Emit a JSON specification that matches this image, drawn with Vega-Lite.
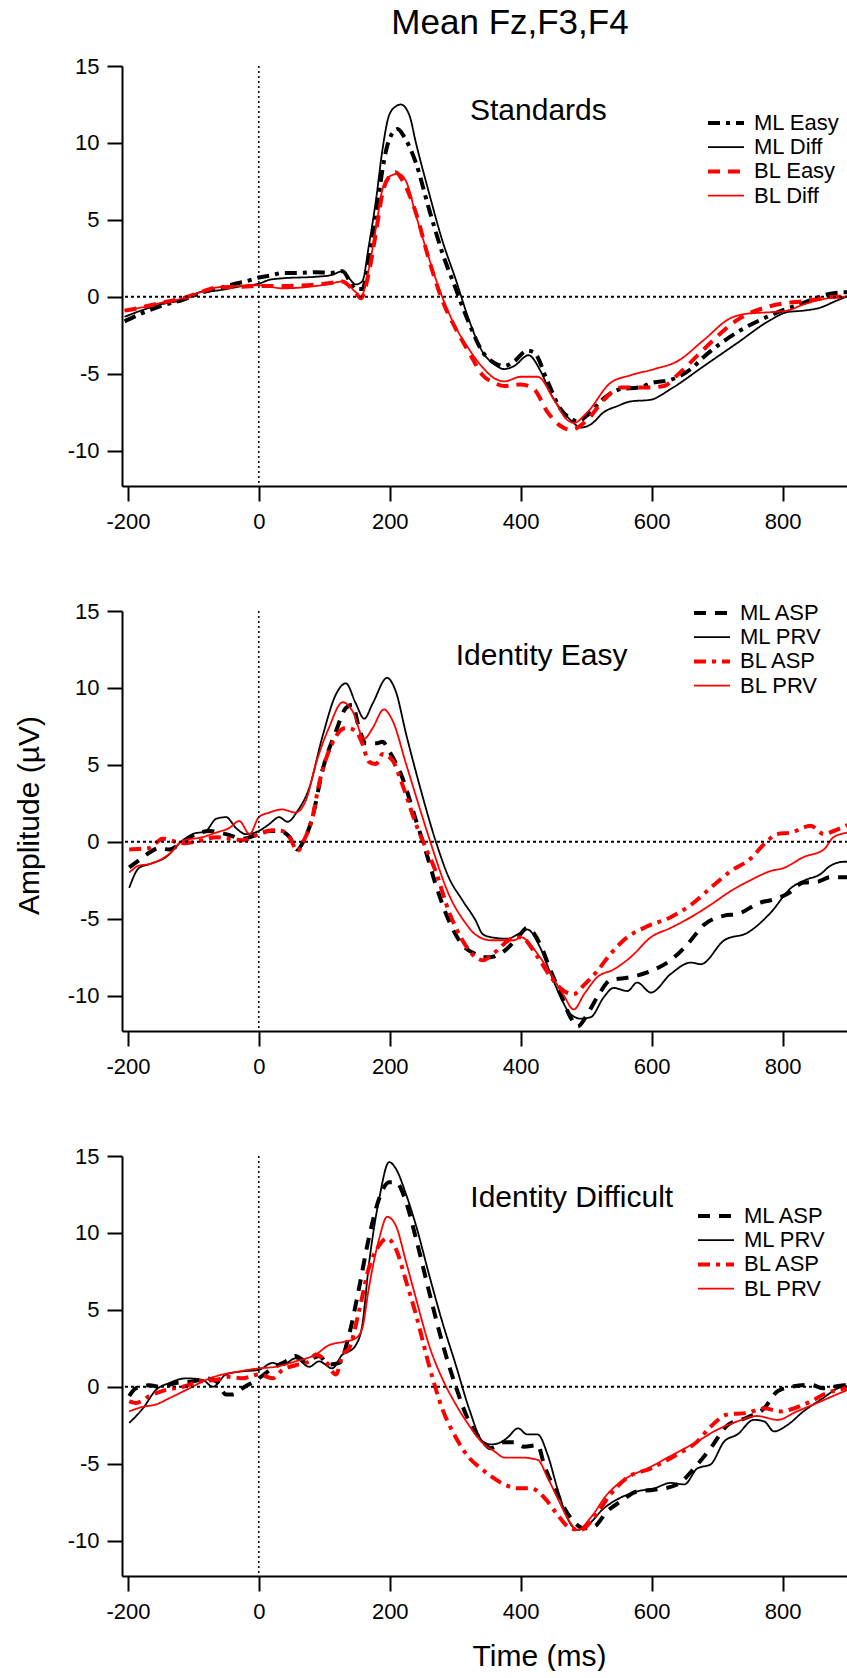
{
"$schema": "https://vega.github.io/schema/vega-lite/v6.json",
"padding": {"left": 14, "top": 6, "right": 0, "bottom": 0},
"title": {"text": "Mean Fz,F3,F4", "fontSize": 35, "font": "Liberation Sans", "fontWeight": "normal", "color": "black", "offset": 14, "dx": 75, "anchor": "middle"},
"spacing": 125,
"bounds": "flush",
"datasets": {
"s1": [
{"s":"ML Easy","t":-205,"v":-1.6},{"s":"ML Easy","t":-180,"v":-1.1},{"s":"ML Easy","t":-150,"v":-0.6},{"s":"ML Easy","t":-116,"v":-0.2},{"s":"ML Easy","t":-85,"v":0.3},{"s":"ML Easy","t":-65,"v":0.5},{"s":"ML Easy","t":-40,"v":0.8},{"s":"ML Easy","t":-20,"v":1.0},{"s":"ML Easy","t":0,"v":1.25},{"s":"ML Easy","t":20,"v":1.4},{"s":"ML Easy","t":36,"v":1.55},{"s":"ML Easy","t":60,"v":1.55},{"s":"ML Easy","t":87,"v":1.6},{"s":"ML Easy","t":110,"v":1.55},{"s":"ML Easy","t":128,"v":1.66},{"s":"ML Easy","t":138,"v":1.1},{"s":"ML Easy","t":148,"v":0.5},{"s":"ML Easy","t":158,"v":0.5},{"s":"ML Easy","t":168,"v":2.4},{"s":"ML Easy","t":179,"v":5.2},{"s":"ML Easy","t":189,"v":8.3},{"s":"ML Easy","t":199,"v":10.2},{"s":"ML Easy","t":212,"v":10.9},{"s":"ML Easy","t":222,"v":10.4},{"s":"ML Easy","t":240,"v":8.7},{"s":"ML Easy","t":260,"v":5.7},{"s":"ML Easy","t":280,"v":2.9},{"s":"ML Easy","t":301,"v":0.5},{"s":"ML Easy","t":321,"v":-1.7},{"s":"ML Easy","t":342,"v":-3.6},{"s":"ML Easy","t":360,"v":-4.3},{"s":"ML Easy","t":375,"v":-4.5},{"s":"ML Easy","t":390,"v":-4.2},{"s":"ML Easy","t":410,"v":-3.5},{"s":"ML Easy","t":420,"v":-3.6},{"s":"ML Easy","t":441,"v":-5.5},{"s":"ML Easy","t":461,"v":-7.3},{"s":"ML Easy","t":476,"v":-7.9},{"s":"ML Easy","t":487,"v":-8.1},{"s":"ML Easy","t":502,"v":-7.7},{"s":"ML Easy","t":527,"v":-6.6},{"s":"ML Easy","t":553,"v":-6.0},{"s":"ML Easy","t":580,"v":-5.9},{"s":"ML Easy","t":600,"v":-5.6},{"s":"ML Easy","t":629,"v":-5.4},{"s":"ML Easy","t":660,"v":-4.7},{"s":"ML Easy","t":680,"v":-3.9},{"s":"ML Easy","t":731,"v":-2.3},{"s":"ML Easy","t":782,"v":-1.2},{"s":"ML Easy","t":832,"v":-0.4},{"s":"ML Easy","t":873,"v":0.2},{"s":"ML Easy","t":900,"v":0.3},
{"s":"ML Diff","t":-205,"v":-1.3},{"s":"ML Diff","t":-180,"v":-0.9},{"s":"ML Diff","t":-150,"v":-0.5},{"s":"ML Diff","t":-116,"v":-0.2},{"s":"ML Diff","t":-85,"v":0.35},{"s":"ML Diff","t":-65,"v":0.4},{"s":"ML Diff","t":-25,"v":0.7},{"s":"ML Diff","t":0,"v":0.85},{"s":"ML Diff","t":16,"v":1.1},{"s":"ML Diff","t":36,"v":1.2},{"s":"ML Diff","t":87,"v":1.3},{"s":"ML Diff","t":110,"v":1.4},{"s":"ML Diff","t":128,"v":1.66},{"s":"ML Diff","t":138,"v":1.2},{"s":"ML Diff","t":148,"v":0.8},{"s":"ML Diff","t":158,"v":1.0},{"s":"ML Diff","t":168,"v":3.3},{"s":"ML Diff","t":179,"v":6.3},{"s":"ML Diff","t":189,"v":9.6},{"s":"ML Diff","t":199,"v":11.8},{"s":"ML Diff","t":210,"v":12.4},{"s":"ML Diff","t":217,"v":12.5},{"s":"ML Diff","t":230,"v":11.8},{"s":"ML Diff","t":240,"v":10.0},{"s":"ML Diff","t":260,"v":6.75},{"s":"ML Diff","t":280,"v":3.7},{"s":"ML Diff","t":301,"v":1.1},{"s":"ML Diff","t":321,"v":-1.5},{"s":"ML Diff","t":342,"v":-3.6},{"s":"ML Diff","t":360,"v":-4.4},{"s":"ML Diff","t":375,"v":-4.7},{"s":"ML Diff","t":390,"v":-4.5},{"s":"ML Diff","t":412,"v":-3.8},{"s":"ML Diff","t":430,"v":-4.8},{"s":"ML Diff","t":446,"v":-6.3},{"s":"ML Diff","t":461,"v":-7.3},{"s":"ML Diff","t":476,"v":-8.0},{"s":"ML Diff","t":492,"v":-8.5},{"s":"ML Diff","t":507,"v":-8.3},{"s":"ML Diff","t":527,"v":-7.5},{"s":"ML Diff","t":548,"v":-7.1},{"s":"ML Diff","t":568,"v":-6.8},{"s":"ML Diff","t":598,"v":-6.7},{"s":"ML Diff","t":629,"v":-6.0},{"s":"ML Diff","t":680,"v":-4.5},{"s":"ML Diff","t":731,"v":-3.0},{"s":"ML Diff","t":782,"v":-1.5},{"s":"ML Diff","t":807,"v":-1.0},{"s":"ML Diff","t":832,"v":-0.9},{"s":"ML Diff","t":858,"v":-0.7},{"s":"ML Diff","t":880,"v":-0.3},{"s":"ML Diff","t":900,"v":0.05},
{"s":"BL Easy","t":-205,"v":-0.9},{"s":"BL Easy","t":-180,"v":-0.7},{"s":"BL Easy","t":-150,"v":-0.4},{"s":"BL Easy","t":-116,"v":-0.1},{"s":"BL Easy","t":-85,"v":0.35},{"s":"BL Easy","t":-65,"v":0.6},{"s":"BL Easy","t":-30,"v":0.65},{"s":"BL Easy","t":0,"v":0.7},{"s":"BL Easy","t":36,"v":0.7},{"s":"BL Easy","t":87,"v":0.8},{"s":"BL Easy","t":110,"v":0.9},{"s":"BL Easy","t":128,"v":1.0},{"s":"BL Easy","t":138,"v":0.7},{"s":"BL Easy","t":148,"v":0.26},{"s":"BL Easy","t":156,"v":-0.1},{"s":"BL Easy","t":168,"v":1.56},{"s":"BL Easy","t":179,"v":4.2},{"s":"BL Easy","t":189,"v":6.75},{"s":"BL Easy","t":199,"v":7.8},{"s":"BL Easy","t":209,"v":8.1},{"s":"BL Easy","t":219,"v":7.6},{"s":"BL Easy","t":240,"v":5.45},{"s":"BL Easy","t":260,"v":2.4},{"s":"BL Easy","t":280,"v":-0.2},{"s":"BL Easy","t":301,"v":-2.1},{"s":"BL Easy","t":321,"v":-3.6},{"s":"BL Easy","t":342,"v":-5.1},{"s":"BL Easy","t":360,"v":-5.6},{"s":"BL Easy","t":375,"v":-5.8},{"s":"BL Easy","t":400,"v":-5.7},{"s":"BL Easy","t":420,"v":-6.0},{"s":"BL Easy","t":441,"v":-7.5},{"s":"BL Easy","t":461,"v":-8.4},{"s":"BL Easy","t":476,"v":-8.65},{"s":"BL Easy","t":502,"v":-8.0},{"s":"BL Easy","t":527,"v":-6.7},{"s":"BL Easy","t":553,"v":-5.9},{"s":"BL Easy","t":594,"v":-5.9},{"s":"BL Easy","t":619,"v":-5.8},{"s":"BL Easy","t":639,"v":-5.1},{"s":"BL Easy","t":680,"v":-3.4},{"s":"BL Easy","t":731,"v":-1.5},{"s":"BL Easy","t":782,"v":-0.6},{"s":"BL Easy","t":807,"v":-0.4},{"s":"BL Easy","t":832,"v":-0.3},{"s":"BL Easy","t":883,"v":0.0},{"s":"BL Easy","t":900,"v":0.0},
{"s":"BL Diff","t":-205,"v":-0.9},{"s":"BL Diff","t":-180,"v":-0.7},{"s":"BL Diff","t":-150,"v":-0.4},{"s":"BL Diff","t":-116,"v":-0.1},{"s":"BL Diff","t":-85,"v":0.35},{"s":"BL Diff","t":-65,"v":0.6},{"s":"BL Diff","t":-30,"v":0.7},{"s":"BL Diff","t":0,"v":0.75},{"s":"BL Diff","t":36,"v":0.55},{"s":"BL Diff","t":87,"v":0.7},{"s":"BL Diff","t":110,"v":0.85},{"s":"BL Diff","t":128,"v":1.0},{"s":"BL Diff","t":148,"v":0.3},{"s":"BL Diff","t":156,"v":0.0},{"s":"BL Diff","t":168,"v":1.8},{"s":"BL Diff","t":179,"v":4.5},{"s":"BL Diff","t":189,"v":7.0},{"s":"BL Diff","t":199,"v":7.8},{"s":"BL Diff","t":213,"v":8.0},{"s":"BL Diff","t":225,"v":7.5},{"s":"BL Diff","t":240,"v":5.3},{"s":"BL Diff","t":260,"v":2.5},{"s":"BL Diff","t":280,"v":0.0},{"s":"BL Diff","t":301,"v":-2.0},{"s":"BL Diff","t":321,"v":-3.4},{"s":"BL Diff","t":342,"v":-4.6},{"s":"BL Diff","t":360,"v":-5.3},{"s":"BL Diff","t":375,"v":-5.5},{"s":"BL Diff","t":400,"v":-5.2},{"s":"BL Diff","t":426,"v":-5.2},{"s":"BL Diff","t":451,"v":-6.7},{"s":"BL Diff","t":471,"v":-8.0},{"s":"BL Diff","t":481,"v":-8.2},{"s":"BL Diff","t":502,"v":-7.5},{"s":"BL Diff","t":537,"v":-5.6},{"s":"BL Diff","t":568,"v":-5.1},{"s":"BL Diff","t":604,"v":-4.7},{"s":"BL Diff","t":639,"v":-4.2},{"s":"BL Diff","t":680,"v":-2.8},{"s":"BL Diff","t":720,"v":-1.4},{"s":"BL Diff","t":746,"v":-1.1},{"s":"BL Diff","t":782,"v":-1.0},{"s":"BL Diff","t":807,"v":-0.9},{"s":"BL Diff","t":832,"v":-0.5},{"s":"BL Diff","t":894,"v":0.0},{"s":"BL Diff","t":900,"v":0.0}
],
"s2": [
{"s":"ML ASP","t":-198,"v":-1.67},{"s":"ML ASP","t":-183,"v":-1.2},{"s":"ML ASP","t":-167,"v":-0.7},{"s":"ML ASP","t":-152,"v":-0.4},{"s":"ML ASP","t":-137,"v":-0.5},{"s":"ML ASP","t":-116,"v":0.0},{"s":"ML ASP","t":-96,"v":0.5},{"s":"ML ASP","t":-75,"v":0.7},{"s":"ML ASP","t":-50,"v":0.5},{"s":"ML ASP","t":-25,"v":0.2},{"s":"ML ASP","t":0,"v":0.5},{"s":"ML ASP","t":16,"v":0.7},{"s":"ML ASP","t":31,"v":0.7},{"s":"ML ASP","t":47,"v":0.3},{"s":"ML ASP","t":59,"v":-0.5},{"s":"ML ASP","t":69,"v":0.1},{"s":"ML ASP","t":82,"v":1.6},{"s":"ML ASP","t":97,"v":4.6},{"s":"ML ASP","t":118,"v":7.2},{"s":"ML ASP","t":133,"v":8.7},{"s":"ML ASP","t":143,"v":8.9},{"s":"ML ASP","t":153,"v":7.4},{"s":"ML ASP","t":164,"v":6.4},{"s":"ML ASP","t":179,"v":6.4},{"s":"ML ASP","t":189,"v":6.5},{"s":"ML ASP","t":199,"v":5.9},{"s":"ML ASP","t":219,"v":4.2},{"s":"ML ASP","t":240,"v":1.4},{"s":"ML ASP","t":255,"v":-0.6},{"s":"ML ASP","t":270,"v":-2.75},{"s":"ML ASP","t":290,"v":-5.1},{"s":"ML ASP","t":311,"v":-6.7},{"s":"ML ASP","t":331,"v":-7.3},{"s":"ML ASP","t":342,"v":-7.5},{"s":"ML ASP","t":354,"v":-7.5},{"s":"ML ASP","t":375,"v":-7.1},{"s":"ML ASP","t":396,"v":-6.2},{"s":"ML ASP","t":410,"v":-5.6},{"s":"ML ASP","t":430,"v":-6.7},{"s":"ML ASP","t":446,"v":-8.4},{"s":"ML ASP","t":461,"v":-9.9},{"s":"ML ASP","t":476,"v":-11.4},{"s":"ML ASP","t":487,"v":-12.0},{"s":"ML ASP","t":502,"v":-11.2},{"s":"ML ASP","t":517,"v":-10.1},{"s":"ML ASP","t":537,"v":-9.0},{"s":"ML ASP","t":568,"v":-8.8},{"s":"ML ASP","t":599,"v":-8.4},{"s":"ML ASP","t":629,"v":-7.7},{"s":"ML ASP","t":654,"v":-6.7},{"s":"ML ASP","t":680,"v":-5.4},{"s":"ML ASP","t":711,"v":-4.8},{"s":"ML ASP","t":731,"v":-4.7},{"s":"ML ASP","t":766,"v":-3.95},{"s":"ML ASP","t":782,"v":-3.8},{"s":"ML ASP","t":807,"v":-3.4},{"s":"ML ASP","t":832,"v":-2.65},{"s":"ML ASP","t":853,"v":-2.6},{"s":"ML ASP","t":873,"v":-2.3},{"s":"ML ASP","t":900,"v":-2.3},
{"s":"ML PRV","t":-198,"v":-3.0},{"s":"ML PRV","t":-183,"v":-1.7},{"s":"ML PRV","t":-167,"v":-1.45},{"s":"ML PRV","t":-142,"v":-1.0},{"s":"ML PRV","t":-116,"v":0.1},{"s":"ML PRV","t":-101,"v":0.5},{"s":"ML PRV","t":-81,"v":0.7},{"s":"ML PRV","t":-65,"v":1.5},{"s":"ML PRV","t":-50,"v":1.6},{"s":"ML PRV","t":-35,"v":0.9},{"s":"ML PRV","t":-20,"v":0.5},{"s":"ML PRV","t":0,"v":0.7},{"s":"ML PRV","t":16,"v":1.15},{"s":"ML PRV","t":31,"v":1.6},{"s":"ML PRV","t":44,"v":1.3},{"s":"ML PRV","t":59,"v":2.0},{"s":"ML PRV","t":77,"v":3.5},{"s":"ML PRV","t":97,"v":6.8},{"s":"ML PRV","t":118,"v":9.6},{"s":"ML PRV","t":133,"v":10.3},{"s":"ML PRV","t":148,"v":9.0},{"s":"ML PRV","t":161,"v":8.0},{"s":"ML PRV","t":174,"v":9.0},{"s":"ML PRV","t":196,"v":10.65},{"s":"ML PRV","t":209,"v":9.8},{"s":"ML PRV","t":225,"v":7.0},{"s":"ML PRV","t":245,"v":3.75},{"s":"ML PRV","t":270,"v":0.07},{"s":"ML PRV","t":290,"v":-2.3},{"s":"ML PRV","t":311,"v":-3.8},{"s":"ML PRV","t":331,"v":-5.1},{"s":"ML PRV","t":342,"v":-6.0},{"s":"ML PRV","t":354,"v":-6.2},{"s":"ML PRV","t":380,"v":-6.3},{"s":"ML PRV","t":400,"v":-5.9},{"s":"ML PRV","t":410,"v":-5.7},{"s":"ML PRV","t":430,"v":-6.9},{"s":"ML PRV","t":446,"v":-8.6},{"s":"ML PRV","t":461,"v":-10.1},{"s":"ML PRV","t":476,"v":-11.2},{"s":"ML PRV","t":492,"v":-11.5},{"s":"ML PRV","t":507,"v":-11.4},{"s":"ML PRV","t":527,"v":-10.1},{"s":"ML PRV","t":542,"v":-9.5},{"s":"ML PRV","t":563,"v":-9.7},{"s":"ML PRV","t":578,"v":-9.15},{"s":"ML PRV","t":599,"v":-9.8},{"s":"ML PRV","t":629,"v":-8.6},{"s":"ML PRV","t":660,"v":-7.85},{"s":"ML PRV","t":675,"v":-7.96},{"s":"ML PRV","t":711,"v":-6.4},{"s":"ML PRV","t":747,"v":-5.9},{"s":"ML PRV","t":782,"v":-4.6},{"s":"ML PRV","t":813,"v":-3.0},{"s":"ML PRV","t":834,"v":-2.5},{"s":"ML PRV","t":858,"v":-2.1},{"s":"ML PRV","t":873,"v":-1.56},{"s":"ML PRV","t":894,"v":-1.3},{"s":"ML PRV","t":900,"v":-1.3},
{"s":"BL ASP","t":-198,"v":-0.5},{"s":"BL ASP","t":-167,"v":-0.4},{"s":"BL ASP","t":-147,"v":0.2},{"s":"BL ASP","t":-116,"v":-0.1},{"s":"BL ASP","t":-86,"v":0.1},{"s":"BL ASP","t":-65,"v":0.3},{"s":"BL ASP","t":-25,"v":0.1},{"s":"BL ASP","t":0,"v":0.5},{"s":"BL ASP","t":21,"v":0.75},{"s":"BL ASP","t":36,"v":0.7},{"s":"BL ASP","t":47,"v":0.3},{"s":"BL ASP","t":59,"v":-0.6},{"s":"BL ASP","t":69,"v":0.1},{"s":"BL ASP","t":82,"v":1.6},{"s":"BL ASP","t":92,"v":3.75},{"s":"BL ASP","t":112,"v":6.4},{"s":"BL ASP","t":133,"v":7.4},{"s":"BL ASP","t":148,"v":7.2},{"s":"BL ASP","t":158,"v":6.4},{"s":"BL ASP","t":168,"v":5.2},{"s":"BL ASP","t":179,"v":5.05},{"s":"BL ASP","t":189,"v":5.7},{"s":"BL ASP","t":204,"v":5.3},{"s":"BL ASP","t":219,"v":3.75},{"s":"BL ASP","t":240,"v":1.15},{"s":"BL ASP","t":255,"v":-0.4},{"s":"BL ASP","t":270,"v":-1.9},{"s":"BL ASP","t":290,"v":-4.5},{"s":"BL ASP","t":311,"v":-6.4},{"s":"BL ASP","t":331,"v":-7.5},{"s":"BL ASP","t":342,"v":-7.7},{"s":"BL ASP","t":360,"v":-7.2},{"s":"BL ASP","t":386,"v":-6.3},{"s":"BL ASP","t":400,"v":-6.2},{"s":"BL ASP","t":426,"v":-7.5},{"s":"BL ASP","t":446,"v":-8.8},{"s":"BL ASP","t":466,"v":-9.7},{"s":"BL ASP","t":481,"v":-9.9},{"s":"BL ASP","t":497,"v":-9.3},{"s":"BL ASP","t":517,"v":-8.4},{"s":"BL ASP","t":537,"v":-7.3},{"s":"BL ASP","t":563,"v":-6.2},{"s":"BL ASP","t":588,"v":-5.6},{"s":"BL ASP","t":629,"v":-4.9},{"s":"BL ASP","t":660,"v":-4.1},{"s":"BL ASP","t":690,"v":-3.0},{"s":"BL ASP","t":721,"v":-1.9},{"s":"BL ASP","t":751,"v":-1.1},{"s":"BL ASP","t":772,"v":-0.15},{"s":"BL ASP","t":792,"v":0.5},{"s":"BL ASP","t":813,"v":0.6},{"s":"BL ASP","t":843,"v":1.04},{"s":"BL ASP","t":863,"v":0.5},{"s":"BL ASP","t":878,"v":0.7},{"s":"BL ASP","t":900,"v":1.1},
{"s":"BL PRV","t":-198,"v":-2.0},{"s":"BL PRV","t":-183,"v":-1.55},{"s":"BL PRV","t":-167,"v":-1.45},{"s":"BL PRV","t":-137,"v":-0.8},{"s":"BL PRV","t":-116,"v":0.07},{"s":"BL PRV","t":-86,"v":0.3},{"s":"BL PRV","t":-65,"v":0.6},{"s":"BL PRV","t":-45,"v":0.9},{"s":"BL PRV","t":-30,"v":1.35},{"s":"BL PRV","t":-14,"v":0.5},{"s":"BL PRV","t":0,"v":1.6},{"s":"BL PRV","t":16,"v":1.9},{"s":"BL PRV","t":36,"v":2.1},{"s":"BL PRV","t":56,"v":1.9},{"s":"BL PRV","t":72,"v":2.7},{"s":"BL PRV","t":87,"v":5.05},{"s":"BL PRV","t":107,"v":7.4},{"s":"BL PRV","t":128,"v":9.07},{"s":"BL PRV","t":143,"v":8.5},{"s":"BL PRV","t":161,"v":6.7},{"s":"BL PRV","t":174,"v":7.4},{"s":"BL PRV","t":191,"v":8.6},{"s":"BL PRV","t":204,"v":7.9},{"s":"BL PRV","t":225,"v":5.05},{"s":"BL PRV","t":250,"v":1.6},{"s":"BL PRV","t":265,"v":-0.4},{"s":"BL PRV","t":290,"v":-3.4},{"s":"BL PRV","t":316,"v":-5.3},{"s":"BL PRV","t":330,"v":-6.0},{"s":"BL PRV","t":354,"v":-6.4},{"s":"BL PRV","t":390,"v":-6.4},{"s":"BL PRV","t":400,"v":-6.2},{"s":"BL PRV","t":426,"v":-7.3},{"s":"BL PRV","t":446,"v":-8.6},{"s":"BL PRV","t":466,"v":-10.0},{"s":"BL PRV","t":481,"v":-10.9},{"s":"BL PRV","t":497,"v":-9.9},{"s":"BL PRV","t":517,"v":-8.8},{"s":"BL PRV","t":542,"v":-8.3},{"s":"BL PRV","t":568,"v":-7.5},{"s":"BL PRV","t":599,"v":-6.2},{"s":"BL PRV","t":629,"v":-5.6},{"s":"BL PRV","t":660,"v":-4.9},{"s":"BL PRV","t":690,"v":-4.1},{"s":"BL PRV","t":721,"v":-3.2},{"s":"BL PRV","t":751,"v":-2.5},{"s":"BL PRV","t":782,"v":-1.9},{"s":"BL PRV","t":802,"v":-1.7},{"s":"BL PRV","t":832,"v":-1.0},{"s":"BL PRV","t":863,"v":-0.5},{"s":"BL PRV","t":878,"v":0.3},{"s":"BL PRV","t":900,"v":0.6}
],
"s3": [
{"s":"ML ASP","t":-198,"v":-0.6},{"s":"ML ASP","t":-188,"v":-0.1},{"s":"ML ASP","t":-167,"v":0.1},{"s":"ML ASP","t":-152,"v":0.0},{"s":"ML ASP","t":-126,"v":0.25},{"s":"ML ASP","t":-101,"v":0.35},{"s":"ML ASP","t":-80,"v":0.55},{"s":"ML ASP","t":-65,"v":0.35},{"s":"ML ASP","t":-50,"v":-0.5},{"s":"ML ASP","t":-40,"v":-0.5},{"s":"ML ASP","t":-25,"v":-0.1},{"s":"ML ASP","t":0,"v":0.55},{"s":"ML ASP","t":21,"v":1.2},{"s":"ML ASP","t":41,"v":1.65},{"s":"ML ASP","t":56,"v":2.0},{"s":"ML ASP","t":72,"v":1.65},{"s":"ML ASP","t":92,"v":2.0},{"s":"ML ASP","t":107,"v":1.45},{"s":"ML ASP","t":123,"v":1.55},{"s":"ML ASP","t":138,"v":3.4},{"s":"ML ASP","t":153,"v":6.4},{"s":"ML ASP","t":168,"v":9.65},{"s":"ML ASP","t":184,"v":12.25},{"s":"ML ASP","t":199,"v":13.3},{"s":"ML ASP","t":209,"v":13.3},{"s":"ML ASP","t":225,"v":12.0},{"s":"ML ASP","t":240,"v":9.65},{"s":"ML ASP","t":260,"v":6.2},{"s":"ML ASP","t":280,"v":2.9},{"s":"ML ASP","t":301,"v":0.0},{"s":"ML ASP","t":321,"v":-2.25},{"s":"ML ASP","t":342,"v":-3.55},{"s":"ML ASP","t":354,"v":-4.0},{"s":"ML ASP","t":375,"v":-3.6},{"s":"ML ASP","t":390,"v":-3.6},{"s":"ML ASP","t":405,"v":-3.9},{"s":"ML ASP","t":426,"v":-3.8},{"s":"ML ASP","t":436,"v":-5.1},{"s":"ML ASP","t":456,"v":-7.0},{"s":"ML ASP","t":476,"v":-8.5},{"s":"ML ASP","t":497,"v":-9.2},{"s":"ML ASP","t":512,"v":-9.1},{"s":"ML ASP","t":532,"v":-8.1},{"s":"ML ASP","t":553,"v":-7.45},{"s":"ML ASP","t":578,"v":-6.8},{"s":"ML ASP","t":604,"v":-6.7},{"s":"ML ASP","t":639,"v":-6.35},{"s":"ML ASP","t":670,"v":-5.05},{"s":"ML ASP","t":690,"v":-4.0},{"s":"ML ASP","t":716,"v":-2.5},{"s":"ML ASP","t":746,"v":-2.0},{"s":"ML ASP","t":772,"v":-1.4},{"s":"ML ASP","t":792,"v":-0.3},{"s":"ML ASP","t":813,"v":0.0},{"s":"ML ASP","t":843,"v":0.13},{"s":"ML ASP","t":863,"v":-0.1},{"s":"ML ASP","t":894,"v":0.1},{"s":"ML ASP","t":900,"v":0.1},
{"s":"ML PRV","t":-198,"v":-2.35},{"s":"ML PRV","t":-177,"v":-1.4},{"s":"ML PRV","t":-157,"v":-0.2},{"s":"ML PRV","t":-137,"v":0.24},{"s":"ML PRV","t":-111,"v":0.55},{"s":"ML PRV","t":-86,"v":0.45},{"s":"ML PRV","t":-70,"v":0.0},{"s":"ML PRV","t":-50,"v":0.8},{"s":"ML PRV","t":-25,"v":1.0},{"s":"ML PRV","t":0,"v":1.1},{"s":"ML PRV","t":21,"v":1.55},{"s":"ML PRV","t":36,"v":1.4},{"s":"ML PRV","t":56,"v":1.85},{"s":"ML PRV","t":77,"v":1.3},{"s":"ML PRV","t":92,"v":1.65},{"s":"ML PRV","t":112,"v":1.2},{"s":"ML PRV","t":128,"v":2.1},{"s":"ML PRV","t":138,"v":2.3},{"s":"ML PRV","t":148,"v":2.7},{"s":"ML PRV","t":158,"v":4.0},{"s":"ML PRV","t":168,"v":7.9},{"s":"ML PRV","t":184,"v":12.25},{"s":"ML PRV","t":199,"v":14.6},{"s":"ML PRV","t":209,"v":14.2},{"s":"ML PRV","t":225,"v":12.5},{"s":"ML PRV","t":240,"v":10.5},{"s":"ML PRV","t":260,"v":7.3},{"s":"ML PRV","t":280,"v":4.25},{"s":"ML PRV","t":301,"v":1.4},{"s":"ML PRV","t":321,"v":-1.4},{"s":"ML PRV","t":342,"v":-3.55},{"s":"ML PRV","t":354,"v":-3.75},{"s":"ML PRV","t":370,"v":-3.6},{"s":"ML PRV","t":380,"v":-3.3},{"s":"ML PRV","t":396,"v":-2.7},{"s":"ML PRV","t":410,"v":-3.1},{"s":"ML PRV","t":426,"v":-3.1},{"s":"ML PRV","t":441,"v":-4.4},{"s":"ML PRV","t":456,"v":-6.6},{"s":"ML PRV","t":471,"v":-8.5},{"s":"ML PRV","t":487,"v":-9.3},{"s":"ML PRV","t":502,"v":-9.0},{"s":"ML PRV","t":527,"v":-7.9},{"s":"ML PRV","t":553,"v":-7.2},{"s":"ML PRV","t":578,"v":-6.8},{"s":"ML PRV","t":604,"v":-6.6},{"s":"ML PRV","t":629,"v":-6.25},{"s":"ML PRV","t":650,"v":-6.35},{"s":"ML PRV","t":670,"v":-5.3},{"s":"ML PRV","t":690,"v":-5.05},{"s":"ML PRV","t":711,"v":-3.55},{"s":"ML PRV","t":731,"v":-3.1},{"s":"ML PRV","t":756,"v":-2.15},{"s":"ML PRV","t":772,"v":-2.25},{"s":"ML PRV","t":787,"v":-2.9},{"s":"ML PRV","t":807,"v":-2.5},{"s":"ML PRV","t":832,"v":-1.6},{"s":"ML PRV","t":858,"v":-0.85},{"s":"ML PRV","t":894,"v":0.0},{"s":"ML PRV","t":900,"v":0.0},
{"s":"BL ASP","t":-198,"v":-0.95},{"s":"BL ASP","t":-188,"v":-1.05},{"s":"BL ASP","t":-167,"v":-0.6},{"s":"BL ASP","t":-142,"v":-0.2},{"s":"BL ASP","t":-116,"v":0.0},{"s":"BL ASP","t":-91,"v":0.35},{"s":"BL ASP","t":-65,"v":0.45},{"s":"BL ASP","t":-45,"v":0.65},{"s":"BL ASP","t":-25,"v":0.55},{"s":"BL ASP","t":0,"v":0.8},{"s":"BL ASP","t":21,"v":0.55},{"s":"BL ASP","t":36,"v":1.1},{"s":"BL ASP","t":56,"v":1.4},{"s":"BL ASP","t":77,"v":1.65},{"s":"BL ASP","t":87,"v":2.1},{"s":"BL ASP","t":102,"v":1.65},{"s":"BL ASP","t":118,"v":0.8},{"s":"BL ASP","t":128,"v":2.1},{"s":"BL ASP","t":138,"v":2.5},{"s":"BL ASP","t":153,"v":4.9},{"s":"BL ASP","t":168,"v":7.7},{"s":"BL ASP","t":184,"v":9.2},{"s":"BL ASP","t":196,"v":9.65},{"s":"BL ASP","t":209,"v":9.0},{"s":"BL ASP","t":225,"v":6.85},{"s":"BL ASP","t":240,"v":4.7},{"s":"BL ASP","t":260,"v":1.4},{"s":"BL ASP","t":280,"v":-1.4},{"s":"BL ASP","t":301,"v":-3.3},{"s":"BL ASP","t":321,"v":-4.6},{"s":"BL ASP","t":339,"v":-5.3},{"s":"BL ASP","t":354,"v":-5.8},{"s":"BL ASP","t":375,"v":-6.35},{"s":"BL ASP","t":396,"v":-6.6},{"s":"BL ASP","t":416,"v":-6.6},{"s":"BL ASP","t":436,"v":-7.2},{"s":"BL ASP","t":456,"v":-8.3},{"s":"BL ASP","t":476,"v":-9.2},{"s":"BL ASP","t":492,"v":-9.3},{"s":"BL ASP","t":512,"v":-8.5},{"s":"BL ASP","t":537,"v":-7.0},{"s":"BL ASP","t":563,"v":-5.9},{"s":"BL ASP","t":599,"v":-5.3},{"s":"BL ASP","t":639,"v":-4.4},{"s":"BL ASP","t":670,"v":-3.55},{"s":"BL ASP","t":690,"v":-2.6},{"s":"BL ASP","t":716,"v":-1.8},{"s":"BL ASP","t":746,"v":-1.7},{"s":"BL ASP","t":772,"v":-1.4},{"s":"BL ASP","t":797,"v":-1.6},{"s":"BL ASP","t":818,"v":-1.4},{"s":"BL ASP","t":843,"v":-0.95},{"s":"BL ASP","t":868,"v":-0.4},{"s":"BL ASP","t":894,"v":-0.1},{"s":"BL ASP","t":900,"v":0.0},
{"s":"BL PRV","t":-198,"v":-1.6},{"s":"BL PRV","t":-177,"v":-1.3},{"s":"BL PRV","t":-157,"v":-1.15},{"s":"BL PRV","t":-137,"v":-0.75},{"s":"BL PRV","t":-106,"v":-0.1},{"s":"BL PRV","t":-75,"v":0.55},{"s":"BL PRV","t":-55,"v":0.8},{"s":"BL PRV","t":-30,"v":1.0},{"s":"BL PRV","t":0,"v":1.2},{"s":"BL PRV","t":26,"v":1.3},{"s":"BL PRV","t":56,"v":1.65},{"s":"BL PRV","t":87,"v":2.1},{"s":"BL PRV","t":107,"v":2.7},{"s":"BL PRV","t":133,"v":2.95},{"s":"BL PRV","t":148,"v":3.15},{"s":"BL PRV","t":158,"v":3.8},{"s":"BL PRV","t":168,"v":6.4},{"s":"BL PRV","t":184,"v":9.65},{"s":"BL PRV","t":196,"v":11.05},{"s":"BL PRV","t":209,"v":10.5},{"s":"BL PRV","t":225,"v":8.1},{"s":"BL PRV","t":240,"v":5.75},{"s":"BL PRV","t":260,"v":2.7},{"s":"BL PRV","t":280,"v":0.55},{"s":"BL PRV","t":301,"v":-1.15},{"s":"BL PRV","t":321,"v":-2.5},{"s":"BL PRV","t":344,"v":-3.75},{"s":"BL PRV","t":360,"v":-4.2},{"s":"BL PRV","t":375,"v":-4.6},{"s":"BL PRV","t":400,"v":-4.6},{"s":"BL PRV","t":426,"v":-4.75},{"s":"BL PRV","t":441,"v":-5.9},{"s":"BL PRV","t":456,"v":-7.2},{"s":"BL PRV","t":471,"v":-8.5},{"s":"BL PRV","t":487,"v":-9.3},{"s":"BL PRV","t":507,"v":-8.5},{"s":"BL PRV","t":532,"v":-7.0},{"s":"BL PRV","t":563,"v":-5.9},{"s":"BL PRV","t":594,"v":-5.3},{"s":"BL PRV","t":629,"v":-4.5},{"s":"BL PRV","t":670,"v":-3.55},{"s":"BL PRV","t":700,"v":-2.8},{"s":"BL PRV","t":731,"v":-2.25},{"s":"BL PRV","t":761,"v":-1.9},{"s":"BL PRV","t":792,"v":-2.15},{"s":"BL PRV","t":822,"v":-1.6},{"s":"BL PRV","t":853,"v":-1.05},{"s":"BL PRV","t":894,"v":-0.3},{"s":"BL PRV","t":900,"v":-0.2}
]
},
"vconcat": [
{
"width": 726, "height": 420,
"layer": [
{"data": {"name": "s1"}, "mark": {"type": "line", "interpolate": "monotone", "strokeCap": "butt"},
 "encoding": {
  "x": {"field": "t", "type": "quantitative", "scale": {"domain": [-209, 900], "nice": false, "zero": false}, "axis": {"values": [-200, 0, 200, 400, 600, 800], "title": null}},
  "y": {"field": "v", "type": "quantitative", "scale": {"domain": [-12.3, 15], "nice": false, "zero": false}, "axis": {"values": [-10, -5, 0, 5, 10, 15], "title": null}},
  "color": {"field": "s", "type": "nominal", "scale": {"domain": ["ML Easy", "ML Diff", "BL Easy", "BL Diff"], "range": ["#000000", "#000000", "#ff0000", "#ff0000"]}, "legend": {"orient": "none", "legendX": 584, "legendY": 46, "title": null}},
  "strokeDash": {"field": "s", "type": "nominal", "scale": {"domain": ["ML Easy", "ML Diff", "BL Easy", "BL Diff"], "range": [[12, 6, 4, 6], [1, 0], [12, 8], [1, 0]]}, "legend": {"orient": "none", "legendX": 584, "legendY": 46, "title": null}},
  "strokeWidth": {"field": "s", "type": "nominal", "scale": {"type": "ordinal", "domain": ["ML Easy", "ML Diff", "BL Easy", "BL Diff"], "range": [4, 1.8, 4, 1.8]}, "legend": {"orient": "none", "legendX": 584, "legendY": 46, "title": null}}
 }},
{"data": {"values": [{}]}, "mark": {"type": "rule", "strokeDash": [3, 3], "strokeWidth": 2, "color": "black"}, "encoding": {"y": {"datum": 0, "type": "quantitative"}}},
{"data": {"values": [{}]}, "mark": {"type": "rule", "strokeDash": [2, 3], "strokeWidth": 1.5, "color": "black"}, "encoding": {"x": {"datum": 0, "type": "quantitative"}}},
{"data": {"values": [{"label": "Standards"}]}, "mark": {"type": "text", "fontSize": 30, "font": "Liberation Sans", "baseline": "middle", "align": "center", "color": "black"}, "encoding": {"x": {"datum": 427, "type": "quantitative"}, "y": {"datum": 12.1, "type": "quantitative"}, "text": {"field": "label"}}}
]
},
{
"width": 726, "height": 420,
"layer": [
{"data": {"name": "s2"}, "mark": {"type": "line", "interpolate": "monotone", "strokeCap": "butt"},
 "encoding": {
  "x": {"field": "t", "type": "quantitative", "scale": {"domain": [-209, 900], "nice": false, "zero": false}, "axis": {"values": [-200, 0, 200, 400, 600, 800], "title": null}},
  "y": {"field": "v", "type": "quantitative", "scale": {"domain": [-12.3, 15], "nice": false, "zero": false}, "axis": {"values": [-10, -5, 0, 5, 10, 15], "title": "Amplitude (µV)", "titleX": -93, "titleY": 204, "titleAlign": "center", "titleBaseline": "middle", "titleAngle": -90, "titleFontSize": 30}},
  "color": {"field": "s", "type": "nominal", "scale": {"domain": ["ML ASP", "ML PRV", "BL ASP", "BL PRV"], "range": ["#000000", "#000000", "#ff0000", "#ff0000"]}, "legend": {"orient": "none", "legendX": 570, "legendY": -9, "title": null}},
  "strokeDash": {"field": "s", "type": "nominal", "scale": {"domain": ["ML ASP", "ML PRV", "BL ASP", "BL PRV"], "range": [[12, 9], [1, 0], [12, 6, 4, 6], [1, 0]]}, "legend": {"orient": "none", "legendX": 570, "legendY": -9, "title": null}},
  "strokeWidth": {"field": "s", "type": "nominal", "scale": {"type": "ordinal", "domain": ["ML ASP", "ML PRV", "BL ASP", "BL PRV"], "range": [4, 1.8, 4, 1.8]}, "legend": {"orient": "none", "legendX": 570, "legendY": -9, "title": null}}
 }},
{"data": {"values": [{}]}, "mark": {"type": "rule", "strokeDash": [3, 3], "strokeWidth": 2, "color": "black"}, "encoding": {"y": {"datum": 0, "type": "quantitative"}}},
{"data": {"values": [{}]}, "mark": {"type": "rule", "strokeDash": [2, 3], "strokeWidth": 1.5, "color": "black"}, "encoding": {"x": {"datum": 0, "type": "quantitative"}}},
{"data": {"values": [{"label": "Identity Easy"}]}, "mark": {"type": "text", "fontSize": 30, "font": "Liberation Sans", "baseline": "middle", "align": "center", "color": "black"}, "encoding": {"x": {"datum": 432, "type": "quantitative"}, "y": {"datum": 12.1, "type": "quantitative"}, "text": {"field": "label"}}}
]
},
{
"width": 726, "height": 420,
"layer": [
{"data": {"name": "s3"}, "mark": {"type": "line", "interpolate": "monotone", "strokeCap": "butt"},
 "encoding": {
  "x": {"field": "t", "type": "quantitative", "scale": {"domain": [-209, 900], "nice": false, "zero": false}, "axis": {"values": [-200, 0, 200, 400, 600, 800], "title": "Time (ms)", "titleX": 417, "titleY": 80, "titleAlign": "center", "titleBaseline": "middle", "titleFontSize": 30}},
  "y": {"field": "v", "type": "quantitative", "scale": {"domain": [-12.3, 15], "nice": false, "zero": false}, "axis": {"values": [-10, -5, 0, 5, 10, 15], "title": null}},
  "color": {"field": "s", "type": "nominal", "scale": {"domain": ["ML ASP", "ML PRV", "BL ASP", "BL PRV"], "range": ["#000000", "#000000", "#ff0000", "#ff0000"]}, "legend": {"orient": "none", "legendX": 574, "legendY": 49, "title": null}},
  "strokeDash": {"field": "s", "type": "nominal", "scale": {"domain": ["ML ASP", "ML PRV", "BL ASP", "BL PRV"], "range": [[12, 9], [1, 0], [12, 6, 4, 6], [1, 0]]}, "legend": {"orient": "none", "legendX": 574, "legendY": 49, "title": null}},
  "strokeWidth": {"field": "s", "type": "nominal", "scale": {"type": "ordinal", "domain": ["ML ASP", "ML PRV", "BL ASP", "BL PRV"], "range": [4, 1.8, 4, 1.8]}, "legend": {"orient": "none", "legendX": 574, "legendY": 49, "title": null}}
 }},
{"data": {"values": [{}]}, "mark": {"type": "rule", "strokeDash": [3, 3], "strokeWidth": 2, "color": "black"}, "encoding": {"y": {"datum": 0, "type": "quantitative"}}},
{"data": {"values": [{}]}, "mark": {"type": "rule", "strokeDash": [2, 3], "strokeWidth": 1.5, "color": "black"}, "encoding": {"x": {"datum": 0, "type": "quantitative"}}},
{"data": {"values": [{"label": "Identity Difficult"}]}, "mark": {"type": "text", "fontSize": 30, "font": "Liberation Sans", "baseline": "middle", "align": "center", "color": "black"}, "encoding": {"x": {"datum": 478, "type": "quantitative"}, "y": {"datum": 12.25, "type": "quantitative"}, "text": {"field": "label"}}}
]
}
],
"resolve": {"scale": {"color": "independent", "strokeDash": "independent", "strokeWidth": "independent"}, "legend": {"color": "independent", "strokeDash": "independent", "strokeWidth": "independent"}},
"config": {
 "view": {"stroke": null},
 "font": "Liberation Sans",
 "axis": {"domainColor": "black", "domainWidth": 2, "tickColor": "black", "tickWidth": 2, "tickSize": 15, "labelFontSize": 22, "labelColor": "black", "labelFont": "Liberation Sans", "labelFlush": false, "labelOverlap": false, "labelExpr": "replace(datum.label, '−', '-')", "grid": false, "titleFont": "Liberation Sans", "titleColor": "black", "titleFontWeight": "normal", "titleFontSize": 28},
 "axisX": {"labelPadding": 10},
 "axisY": {"labelPadding": 8},
 "legend": {"labelFontSize": 22, "labelFont": "Liberation Sans", "labelColor": "black", "symbolType": "stroke", "symbolSize": 1296, "clipHeight": 22, "rowPadding": 2.2, "labelOffset": 8, "padding": 0, "symbolStrokeColor": "black"}
}
}
